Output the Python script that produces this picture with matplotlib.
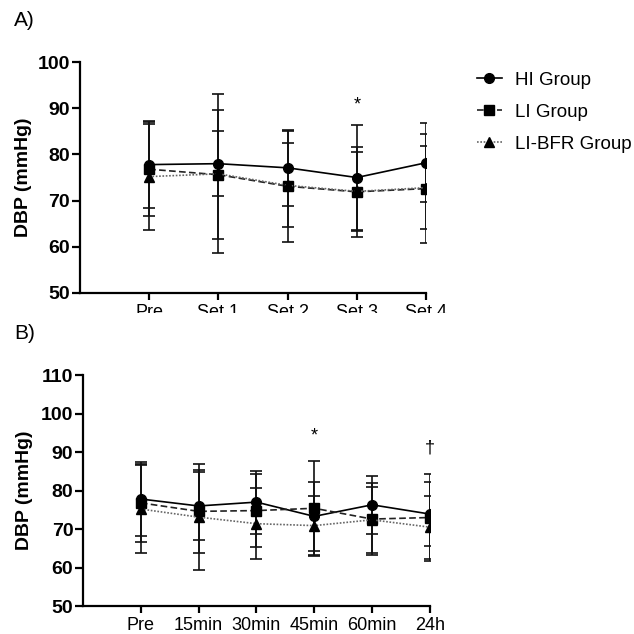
import numpy as np
import matplotlib
matplotlib.use("Agg")
import matplotlib.pyplot as plt
from matplotlib.lines import Line2D
from matplotlib.transforms import Bbox, TransformedBbox

plt.rcParams['font.family'] = ['Liberation Sans', 'DejaVu Sans']

# Panel A data (during exercise)
a_labels = ['Pre', 'Set 1', 'Set 2', 'Set 3', 'Set 4']
a_hi = [77.8, 78.0, 77.1, 75.0, 78.2]
a_hi_sd = [9.5, 7.1, 8.3, 11.4, 8.6]
a_li = [76.8, 75.6, 73.1, 71.9, 72.6]
a_li_sd = [10.2, 14.0, 12.0, 9.7, 11.8]
a_bfr = [75.2, 75.8, 73.3, 72.0, 72.8]
a_bfr_sd = [11.5, 17.2, 9.1, 8.6, 9.0]
a_marks = ['', '', '', '*', '']

# Panel B data (recovery)
b_labels = ['Pre', '15min', '30min', '45min', '60min', '24h']
b_hi = [77.8, 76.0, 77.0, 73.3, 76.3, 73.9]
b_hi_sd = [9.5, 8.8, 8.2, 9.0, 7.6, 8.4]
b_li = [76.8, 74.6, 74.8, 75.4, 72.6, 73.0]
b_li_sd = [10.2, 10.7, 9.5, 12.2, 9.3, 11.2]
b_bfr = [75.2, 73.1, 71.4, 70.9, 72.4, 70.5]
b_bfr_sd = [11.5, 13.8, 9.2, 7.8, 8.6, 8.2]
b_marks = ['', '', '', '*', '', '\u2020']

groups = ['HI Group', 'LI Group', 'LI-BFR Group']
styles = ['-', (0, (4, 2)), (0, (1, 1))]
colors = ['black', '#222222', '#666666']
markers = ['o', 's', '^']
msizes = [7, 7, 6.5]


def group_plot(ax, x, y, sd, k):
    """Draw one group as a line with markers and SD error bars."""
    ax.errorbar(x, y, yerr=sd, color=colors[k], ecolor='#111111',
                elinewidth=1.2, capsize=4.5, capthick=1.2,
                linestyle=styles[k], linewidth=1.2, marker=markers[k],
                markersize=msizes[k], markerfacecolor='black',
                markeredgecolor='black')


def panel(ax, labels, hi, hi_sd, li, li_sd, bfr, bfr_sd, marks, ylim, yticks,
          mark_off):
    """Draw one DBP panel."""
    x = np.arange(len(labels))
    group_plot(ax, x, hi, hi_sd, 0)
    group_plot(ax, x, li, li_sd, 1)
    group_plot(ax, x, bfr, bfr_sd, 2)

    # significance marks above the highest cap
    for i, m in enumerate(marks):
        if m:
            top = max(hi[i] + hi_sd[i], li[i] + li_sd[i], bfr[i] + bfr_sd[i])
            ax.annotate(m, (x[i], top), xytext=(0, mark_off[m]),
                        textcoords='offset points', ha='center', va='center',
                        fontsize=13)

    ax.set_xlim(-1, len(labels) - 1)
    ax.set_ylim(*ylim)
    ax.set_xticks(x)
    ax.set_xticklabels(labels, fontsize=13)
    ax.set_yticks(yticks)
    ax.set_yticklabels([str(t) for t in yticks], fontsize=14,
                       fontweight='bold')
    for s in ['top', 'right']:
        ax.spines[s].set_visible(False)
    for s in ['left', 'bottom']:
        ax.spines[s].set_linewidth(1.6)
    ax.tick_params(axis='y', length=6, width=1.6, pad=1)
    ax.tick_params(axis='x', length=5, width=1.6, pad=3)
    ax.set_ylabel('DBP (mmHg)', fontsize=14, fontweight='bold')


fig = plt.figure(figsize=(6.34, 6.34), dpi=100)

# Panel A
axA = fig.add_axes([0.126, 0.538, 0.546, 0.364])
panel(axA, a_labels, a_hi, a_hi_sd, a_li, a_li_sd, a_bfr, a_bfr_sd, a_marks,
      (50, 100), [50, 60, 70, 80, 90, 100], {'*': 14, '\u2020': 19})
axA.yaxis.set_label_coords(-0.137, 0.5)

# the x labels of panel A are cut off in the original figure
clip = TransformedBbox(Bbox([[0, 0.507], [1, 1]]), fig.transFigure)
for lab in axA.get_xticklabels():
    lab.set_clip_box(clip)
    lab.set_clip_on(True)

# Panel B
axB = fig.add_axes([0.131, 0.044, 0.547, 0.3645])
panel(axB, b_labels, b_hi, b_hi_sd, b_li, b_li_sd, b_bfr, b_bfr_sd, b_marks,
      (50, 110), [50, 60, 70, 80, 90, 100, 110], {'*': 18, '\u2020': 19})
axB.yaxis.set_label_coords(-0.144, 0.5)

# Panel letters
fig.text(0.022, 0.982, 'A)', fontsize=15, va='top')
fig.text(0.022, 0.489, 'B)', fontsize=15, va='top')

# Legend: line + marker only
handles = [Line2D([], [], color=colors[k], linestyle=styles[k], linewidth=1.2,
                  marker=markers[k], markersize=msizes[k],
                  markerfacecolor='black', markeredgecolor='black')
           for k in range(3)]
fig.legend(handles, groups, loc='upper left', bbox_to_anchor=(0.752, 0.887),
           frameon=False, fontsize=13.5, borderpad=0, borderaxespad=0,
           handlelength=1.35, handletextpad=0.7, labelspacing=0.8)

plt.savefig('out.png', dpi=100)
